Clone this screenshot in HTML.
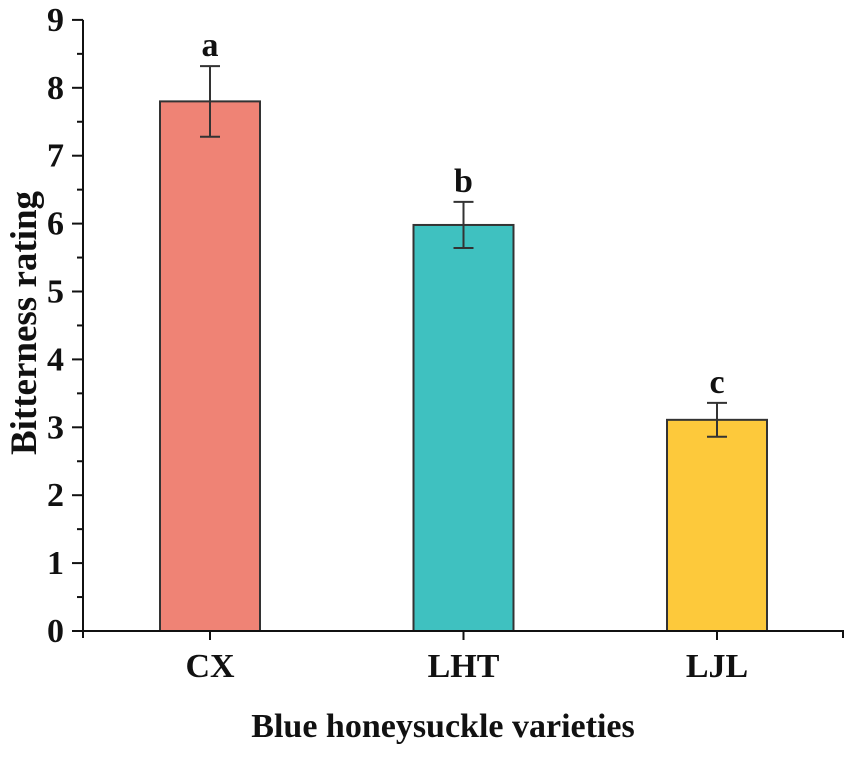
<!DOCTYPE html>
<html><head><meta charset="utf-8"><style>
body{margin:0;background:#fff}
svg text{font-family:"Liberation Serif",serif;font-weight:bold;fill:#111}
</style></head><body>
<svg width="851" height="753">
<g id="plot"></g>
<text x="0" y="0" font-size="37" text-anchor="middle" transform="translate(36,323) rotate(-90)">Bitterness rating</text>
<text x="443" y="737" font-size="34" text-anchor="middle">Blue honeysuckle varieties</text>
</svg>
<script>
const categories=["CX","LHT","LJL"];
const values=[7.8,5.98,3.11];
const errors=[0.52,0.34,0.25];
const letters=["a","b","c"];
const colors=["#ef8375","#3fc1c0","#fdc93b"];
const yTicks=[0,1,2,3,4,5,6,7,8,9];
const NS="http://www.w3.org/2000/svg";
const g=document.getElementById("plot");
const y=v=>631-v*67.9;
const x=i=>210+i*253.5;
function mk(t,a,p){const e=document.createElementNS(NS,t);for(const k in a)e.setAttribute(k,a[k]);(p||g).appendChild(e);return e;}
categories.forEach((c,i)=>{
 const b=mk("rect",{x:x(i)-50,y:y(values[i]),width:100,height:631-y(values[i]),fill:colors[i],stroke:"#333","stroke-width":2});
 
 
 const hi=y(values[i]+errors[i]),lo=y(values[i]-errors[i]);
 const eb=mk("path",{d:`M${x(i)},${hi}V${lo}M${x(i)-10},${hi}H${x(i)+10}M${x(i)-10},${lo}H${x(i)+10}`,stroke:"#333","stroke-width":2,fill:"none"});
 
 
 const l=mk("text",{x:x(i),y:hi-10,"font-size":34,"text-anchor":"middle"});l.textContent=letters[i];
 
 
 const t=mk("text",{x:x(i),y:677,"font-size":34,"text-anchor":"middle"});t.textContent=c;
 
 
 mk("line",{x1:x(i),x2:x(i),y1:631,y2:640,stroke:"#111","stroke-width":2});
});
yTicks.forEach(v=>{
 mk("line",{x1:72,x2:83,y1:y(v),y2:y(v),stroke:"#111","stroke-width":2});
 if(v<9)mk("line",{x1:77,x2:83,y1:y(v+0.5),y2:y(v+0.5),stroke:"#111","stroke-width":2});
 const t=mk("text",{x:64,y:y(v)+11,"font-size":34,"text-anchor":"end"});t.textContent=v;
 
 
});
const ax=mk("path",{d:`M83,${y(9)}V631H843V638M83,631V638`,stroke:"#111","stroke-width":2,fill:"none"});


</script>
</body></html>
